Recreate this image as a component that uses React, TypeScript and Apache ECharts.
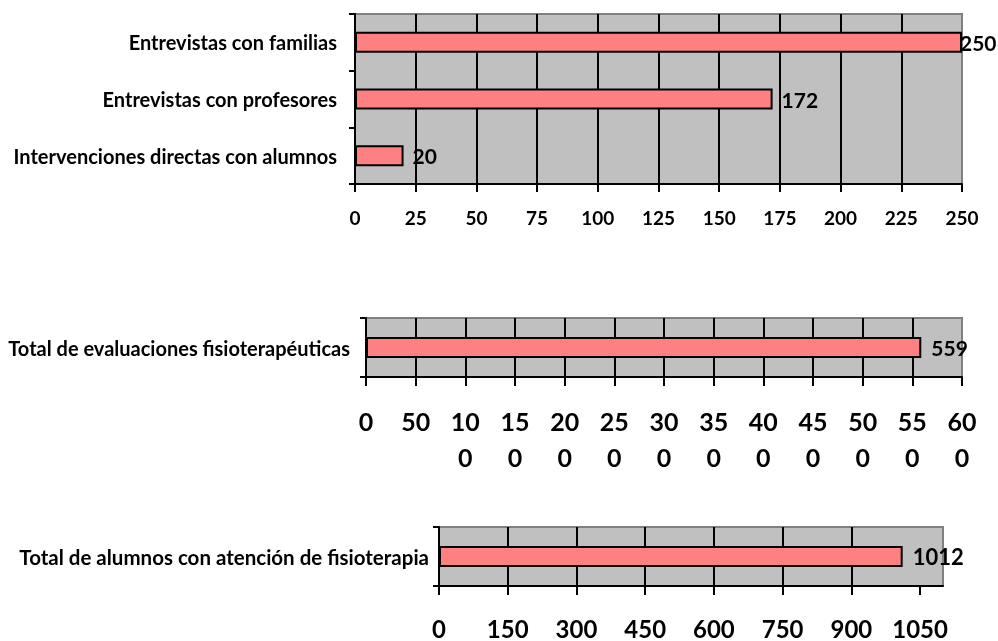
import React, { useEffect, useRef } from "react";
import * as echarts from "echarts";

const catsA = ["Entrevistas con familias", "Entrevistas con profesores", "Intervenciones directas con alumnos"];
const valsA = [250, 172, 20];
const catsB = ["Total de evaluaciones fisioterapéuticas"];
const valsB = [559];
const catsC = ["Total de alumnos con atención de fisioterapia"];
const valsC = [1012];
const ticksC = [0, 150, 300, 450, 600, 750, 900, 1050];

const FONT = "Lato, 'Open Sans', sans-serif";
const BAR = "#FF8080";
const BG = "#C0C0C0";

export default function App() {
  const ref = useRef<HTMLDivElement>(null);
  useEffect(() => {
    document.body.style.margin = "0";
    const chart = echarts.init(ref.current!, null, { renderer: "svg" });
    const grid = (left: number, top: number, width: number, height: number) => ({
      left, top, width, height, show: true, backgroundColor: BG,
      borderColor: "#808080", borderWidth: 2, containLabel: false,
    });
    const xAx = (gridIndex: number, max: number, interval: number, fontSize: number, margin: number, tickLen: number, extra: any = {}) => ({
      type: "value", gridIndex, min: 0, max, interval,
      axisLine: { show: true, lineStyle: { color: "#000", width: 2 } },
      axisTick: { show: true, length: tickLen, lineStyle: { color: "#000", width: 2 }, ...(extra.axisTick || {}) },
      splitLine: { show: true, showMinLine: false, showMaxLine: false, lineStyle: { color: "#000", width: 2 } },
      axisLabel: {
        show: true, color: "#000", fontFamily: FONT, fontWeight: "bold", fontSize, margin,
        formatter: (v: number) => String(v), ...(extra.axisLabel || {}),
      },
    });
    const yAx = (gridIndex: number, data: string[], margin: number, fontSize: number) => ({
      type: "category", gridIndex, data, inverse: true,
      axisLine: { show: true, lineStyle: { color: "#000", width: 2 } },
      axisTick: { show: true, length: 6, lineStyle: { color: "#000", width: 2 } },
      splitLine: { show: false },
      axisLabel: { color: "#000", fontFamily: FONT, fontWeight: "bold", fontSize, margin },
    });
    const lbl = (fontSize: number, distance: number) => ({
      show: true, position: "right", distance, color: "#000", fontFamily: FONT, fontWeight: "bold", fontSize,
    });
    chart.setOption({
      animation: false,
      grid: [grid(355, 14, 607, 170), grid(366, 318, 596, 59), grid(439, 527, 504, 59)],
      xAxis: [
        xAx(0, 250, 25, 19, 24, 8),
        xAx(1, 600, 50, 25, 26, 9, {
          axisLabel: {
            lineHeight: 36,
            formatter: (v: number) => { const s = String(v); return s.length > 2 ? s.slice(0, 2) + "\n" + s.slice(2) : s; },
          },
        }),
        xAx(2, 1100, 150, 24, 30, 9, {
          axisLabel: { customValues: ticksC },
          axisTick: { customValues: ticksC },
        }),
      ],
      yAxis: [yAx(0, catsA, 18, 20), yAx(1, catsB, 16, 20), yAx(2, catsC, 10, 20.5)],
      series: [
        {
          type: "bar", xAxisIndex: 0, yAxisIndex: 0, barWidth: 21,
          data: valsA.map((v, i) => (i === 0 ? { value: v, label: { distance: -2 } } : v)),
          itemStyle: { color: BAR, borderColor: "#000", borderWidth: 2 },
          label: lbl(21, 9),
        },
        {
          type: "bar", xAxisIndex: 1, yAxisIndex: 1, barWidth: 21, data: valsB,
          itemStyle: { color: BAR, borderColor: "#000", borderWidth: 2 },
          label: lbl(21, 10),
        },
        {
          type: "bar", xAxisIndex: 2, yAxisIndex: 2, barWidth: 21, data: valsC,
          itemStyle: { color: BAR, borderColor: "#000", borderWidth: 2 },
          label: lbl(22, 10),
        },
      ],
    });
    return () => chart.dispose();
  }, []);
  return <div ref={ref} style={{ position: "fixed", left: 0, top: 0, width: 998, height: 641 }} />;
}
